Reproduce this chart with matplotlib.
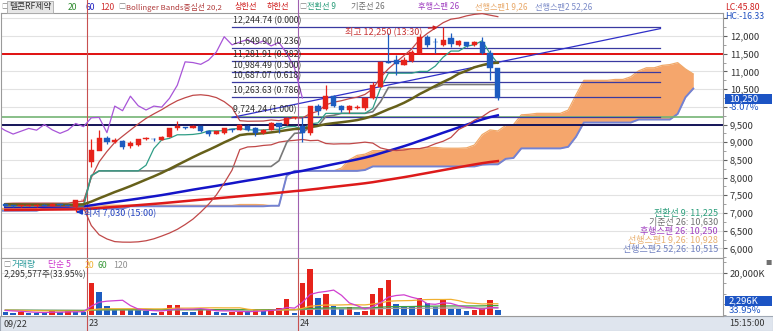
import numpy as np
import pandas as pd
import matplotlib
matplotlib.use("Agg")
import matplotlib.pyplot as plt
from matplotlib.patches import Rectangle
from matplotlib.lines import Line2D
from matplotlib.ticker import MultipleLocator, FixedLocator

plt.rcParams['font.family'] = ['Noto Sans CJK KR', 'DejaVu Sans']

W, H = 773, 331

# ---------------- data (15-minute bars, 09/22 afternoon .. 09/24) ----------------
opens = [7250, 7220, 7200, 7210, 7190, 7240, 7200, 7240, 7230, 7160, 7360,
         8450, 8750, 9130, 9010, 9040, 8890, 8920, 9080, 9100, 9070, 9160, 9400, 9420, 9400,
         9460, 9320, 9240, 9250, 9360, 9350, 9460, 9390, 9260, 9350, 9530, 9510, 9690,
         9460, 9270, 10020, 9930, 10300, 10020, 9910, 9980, 9960, 10240, 10570, 11260, 11320,
         11190, 11280, 11510, 11980, 11840, 11750, 11930, 11750, 11820, 11740, 11840, 11510, 11090]
highs = [7270, 7240, 7230, 7230, 7250, 7250, 7270, 7260, 7250, 7380, 7380,
         9080, 9350, 9180, 9110, 9060, 9030, 9100, 9160, 9130, 9170, 9400, 9600, 9440, 9480,
         9470, 9340, 9330, 9410, 9380, 9520, 9480, 9420, 9360, 9560, 9550, 9700, 9720,
         9700, 10030, 10080, 10620, 10320, 10060, 10060, 10060, 10250, 10710, 11280, 12080, 11460,
         11420, 11600, 12050, 12030, 11930, 12250, 12080, 11900, 11840, 11850, 11980, 11600, 11100]
lows = [7190, 7180, 7180, 7190, 7180, 7190, 7190, 7210, 7190, 7030, 7350,
        8290, 8780, 8940, 8990, 8820, 8840, 8900, 9060, 9040, 9050, 9150, 9350, 9380, 9390,
        9280, 9180, 9220, 9240, 9300, 9340, 9330, 9170, 9240, 9340, 9260, 9500, 9660,
        9010, 9200, 9780, 9920, 10000, 9850, 9820, 9950, 9920, 10220, 10550, 11230, 10900,
        11170, 11260, 11480, 11700, 11520, 11730, 11700, 11720, 11700, 11720, 11480, 10760, 10200]
closes = [7200, 7190, 7205, 7210, 7240, 7200, 7250, 7230, 7200, 7370, 7360,
          8780, 9110, 9000, 9050, 8870, 8970, 9080, 9120, 9080, 9150, 9390, 9450, 9405, 9460,
          9330, 9230, 9310, 9390, 9340, 9500, 9350, 9250, 9340, 9530, 9440, 9690, 9700,
          9270, 10020, 9890, 10300, 10030, 9910, 10020, 9990, 10240, 10610, 11270, 11250, 11200,
          11320, 11550, 11980, 11750, 11830, 11900, 11770, 11860, 11720, 11820, 11510, 11090, 10250]
volumes_k = [1600, 1100, 1400, 1100, 1100, 1100, 1900, 1300, 1900, 1300, 1300,
             15000, 10700, 4400, 2400, 2400, 2400, 2400, 2000, 1100, 1600, 4700, 4700, 1400, 1400,
             2800, 2800, 1600, 1100, 1400, 1600, 1900, 2700, 1900, 2700, 3200, 7400, 1100,
             15300, 21600, 7900, 9800, 4300, 3000, 3600, 1400, 2000, 9800, 12600, 16500, 5200,
             3600, 4000, 8200, 5500, 4000, 7100, 2700, 2700, 1900, 2400, 3500, 7100, 2296]
vol_colors = list("BBRBBBRBRBB"
                  "RBBBRBBBBRRRBBRRBBRRBRBRRRB"
                  "RRBRBBRBRRRRBBBRBBRBBBRRRB")
last_volume_shares = 2295577
last_volume_ratio = '33.95%'
price_change = '-8.07%'
day_labels = ['09/22', '23', '24']
day_first_bar = [0, 11, 38]
time_labels = {'high': '13:30', 'low': '15:00'}
lc_hc = ('LC:45.80', 'HC:-16.33')

# levels on the left edge before the visible bars (indicator warm-up)
warm_levels = [7000, 7130, 7250]
warm_counts = [80, 40, 20]
warm_spread = 50
warm_volume_k = 2300

# drawn objects
fib_high, fib_low = 12244.74, 9724.24
fib_ratios = [0.0, 0.236, 0.382, 0.5, 0.618, 0.786, 1.0]
fib_x = [29, 83.8]
trend_x = [29, 83.8]
trend_p = [9700, 12210]
hline_red, hline_green, hline_navy = 11500, 9700, 9480

# ---------------- indicators ----------------
n = len(closes)
wc = np.concatenate([np.full(c, v, float) for v, c in zip(warm_levels, warm_counts)])
nw = len(wc)
C = pd.Series(np.concatenate([wc, closes]))
Hh = pd.Series(np.concatenate([wc + warm_spread, highs]))
Ll = pd.Series(np.concatenate([wc - warm_spread, lows]))
Vv = pd.Series(np.concatenate([np.full(nw, warm_volume_k, float), volumes_k]))
t_all = np.arange(-nw, n)

ma = {k: C.rolling(k).mean().values for k in (20, 60, 120)}
sd20 = C.rolling(20).std(ddof=0).values
bb_up = ma[20] + 2 * sd20
bb_dn = ma[20] - 2 * sd20
conv = ((Hh.rolling(9).max() + Ll.rolling(9).min()) / 2).values
base = ((Hh.rolling(26).max() + Ll.rolling(26).min()) / 2).values
span1 = (conv + base) / 2
span2 = ((Hh.rolling(52).max() + Ll.rolling(52).min()) / 2).values
shift = 25
vma = {k: Vv.rolling(k).mean().values for k in (5, 20, 60, 120)}

vis = t_all >= 0

UP = '#e6231b'
DN = '#1d5cc0'

# ---------------- figure ----------------
fig = plt.figure(figsize=(W / 100, H / 100), dpi=100)
fig.patch.set_facecolor('white')


def rect(x0, y0, x1, y1):
    return [x0 / W, 1 - y1 / H, (x1 - x0) / W, (y1 - y0) / H]


XL = (-0.55, 91.8)
ax = fig.add_axes(rect(1, 13, 723, 258))
axv = fig.add_axes(rect(1, 258, 723, 316))
for a in (ax, axv):
    a.set_xlim(*XL)
    a.set_xticks([])
    for s in a.spines.values():
        s.set_color('#9a9a9a')
        s.set_linewidth(0.8)
    a.set_facecolor('white')

ax.set_ylim(5729, 12650)
axv.set_ylim(-470, 26950)


def px_of(x):
    return 1 + (x - XL[0]) / (XL[1] - XL[0]) * 722

# grid
for p in range(6000, 13000, 500):
    ax.axhline(p, color='#e2e2e2', lw=0.8, zorder=0)
axv.axhline(20000, color='#e2e2e2', lw=0.8, zorder=0)

# cloud
ts = t_all + shift
m = ts >= -1
ax.fill_between(ts[m], span1[m], span2[m], color='#f5a66c', lw=0, zorder=1)
ax.plot(ts[m], span1[m], color='#f0a868', lw=0.9, zorder=1.5)
ax.plot(ts[m], span2[m], color='#7282d4', lw=1.4, zorder=1.6)

# horizontal lines
ax.axhline(hline_red, color='#e01010', lw=1.4, zorder=2)
ax.axhline(hline_green, color='#74b474', lw=1.2, zorder=2)
ax.axhline(hline_navy, color='#141458', lw=1.4, zorder=2)

# fibonacci
for r in fib_ratios:
    lv = fib_high - r * (fib_high - fib_low)
    ax.plot(fib_x, [lv, lv], color='#3a3aa0', lw=0.9, zorder=2)
    ax.text(fib_x[0] + 0.1, lv + 55, f"{lv:,.2f} ({r:.3f})", fontsize=6.3,
            color='#303030', ha='left', va='bottom', zorder=6)
ax.plot(trend_x, trend_p, color='#2f2fc8', lw=0.9, zorder=2)

# day separators
seps = [day_first_bar[1] - 0.5, day_first_bar[2] - 0.5]
sep_cols = ['#c85050', '#a060b0']
for s, c in zip(seps, sep_cols):
    ax.axvline(s, color=c, lw=0.8, zorder=2)
    axv.axvline(s, color='#c85050', lw=0.8, zorder=2)
    fig.add_artist(Line2D([px_of(s) / W] * 2, [0, 15 / H], color='#c85050', lw=0.8,
                          transform=fig.transFigure, zorder=5))
    fig.add_artist(Line2D([px_of(s) / W] * 2, [1 - 13 / H, 1], color=c, lw=0.8,
                          transform=fig.transFigure, zorder=5))

# indicator lines
tv = t_all[vis]
ax.plot(tv, ma[120][vis], color='#dd1a1a', lw=1.8, zorder=3)
ax.plot(tv, ma[60][vis], color='#1414c8', lw=1.8, zorder=3)
ax.plot(tv, bb_up[vis], color='#c04848', lw=0.9, zorder=3)
ax.plot(tv, bb_dn[vis], color='#c04848', lw=0.9, zorder=3)
ax.plot(tv, base[vis], color='#787878', lw=1.2, zorder=3)
ax.plot(tv, conv[vis], color='#2f9d86', lw=0.9, zorder=3)
ax.plot(tv, ma[20][vis], color='#66601a', lw=1.8, zorder=3.1)
lag_x = np.arange(n) - shift
ax.plot(lag_x, closes, color='#a855d8', lw=0.9, zorder=3)

# candles
idx = np.arange(n)
o = np.array(opens, float); c = np.array(closes, float)
col = np.where(c >= o, UP, DN)
ax.vlines(idx, lows, highs, colors=col, lw=0.9, zorder=4)
ax.bar(idx, np.maximum(np.abs(c - o), 14), bottom=np.minimum(o, c), width=0.66,
       color=col, edgecolor=col, lw=0.3, zorder=5)

# high / low annotations
ih = int(np.argmax(highs)); il = int(np.argmin(lows))
ax.annotate(f"최고 {highs[ih]:,} ({time_labels['high']})", xy=(ih - 0.3, highs[ih]),
            xytext=(ih - 2.6, highs[ih] - 130), fontsize=6.5, color='#c83232',
            ha='right', va='center', zorder=7,
            arrowprops=dict(arrowstyle='-|>', color='#d02020', lw=0.9, mutation_scale=6))
ax.annotate(f"최저 {lows[il]:,} ({time_labels['low']})", xy=(il + 0.1, lows[il]),
            xytext=(il + 1.1, lows[il]), fontsize=6.5, color='#2040c0',
            ha='left', va='center', zorder=7,
            arrowprops=dict(arrowstyle='-|>', color='#1a3cc8', lw=1.2, mutation_scale=7))

# right price axis
ax.yaxis.tick_right()
ticks = list(range(6000, 13000, 500))
ax.yaxis.set_major_locator(FixedLocator(ticks))
ax.set_yticklabels(['' if t in (10000, 12500) else f"{t:,}" for t in ticks])
ax.yaxis.set_minor_locator(MultipleLocator(250))
ax.tick_params(axis='y', which='major', length=3, pad=2, labelsize=6.8,
               colors='#606060', labelcolor='#333333')
ax.tick_params(axis='y', which='minor', length=2, colors='#909090')

axv.yaxis.tick_right()
axv.yaxis.set_major_locator(FixedLocator([20000]))
axv.set_yticklabels(['20,000K'])
axv.yaxis.set_minor_locator(MultipleLocator(5000))
axv.tick_params(axis='y', which='major', length=3, pad=2, labelsize=6.8,
                colors='#606060', labelcolor='#333333')
axv.tick_params(axis='y', which='minor', length=2, colors='#909090')

# volume
vcol = [UP if v == 'R' else DN for v in vol_colors]
axv.bar(idx, volumes_k, width=0.7, color=vcol, zorder=3)
vcols = {5: '#d040d0', 20: '#f0b030', 60: '#40a040', 120: '#a0a0a0'}
for k in (120, 60, 20, 5):
    axv.plot(tv, vma[k][vis], color=vcols[k], lw=0.9, zorder=4)

# ---------------- texts ----------------
def ftext(px, py, s, color='#333333', size=6.5, ha='left', **kw):
    return fig.text(px / W, 1 - py / H, s, color=color, fontsize=size, ha=ha,
                    va='center', **kw)

# header legend
ftext(1.5, 7, '□', color='#888888', size=5)
ftext(9, 7, '텔콘RF제약', color='#333333', size=6.3,
      bbox=dict(boxstyle='square,pad=0.2', fc='#e6e6e6', ec='#a8a8a8', lw=0.6))
legend_items = [('20', 68, '#2e8b2e', 6.2), ('60', 85, '#2020c0', 6.2),
                ('120', 100, '#d03030', 6.2), ('□', 118, '#888888', 5),
                ('Bollinger Bands중심선 20,2', 126, '#b03a3a', 5.6),
                ('상한선', 235, '#d02020', 5.9), ('하한선', 267, '#d02020', 5.9),
                ('□', 299, '#888888', 5), ('전환선 9', 307, '#2a9d7a', 5.9),
                ('기준선 26', 351, '#707070', 5.9), ('후행스팬 26', 418, '#a040c0', 5.9),
                ('선행스팬1 9,26', 475, '#e8a868', 5.9), ('선행스팬2 52,26', 535, '#7a8ac8', 5.9)]
for s, x, cc, fs in legend_items:
    ftext(x, 7, s, color=cc, size=fs)

ftext(725, 7, lc_hc[0], color='#d02020', size=6.3)
ftext(725, 16.5, lc_hc[1], color='#2050c0', size=6.3)

# ichimoku value labels
last = -1
ich_lbl = [(f"전환선 9: {conv[last]:,.0f}", '#2a9d7a'),
           (f"기준선 26: {base[last]:,.0f}", '#707070'),
           (f"후행스팬 26: {closes[-1]:,.0f}", '#a040c0'),
           (f"선행스팬1 9,26: {span1[last]:,.0f}", '#e8b070'),
           (f"선행스팬2 52,26: {span2[last]:,.0f}", '#7080c0')]
for k, (s, cc) in enumerate(ich_lbl):
    ftext(718, 212 + k * 9.2, s, color=cc, size=6.5, ha='right')

# current price box
fig.add_artist(Rectangle((725 / W, 1 - 103.5 / H), 47 / W, 9.5 / H, transform=fig.transFigure,
                         fc='#1c54c4', ec='none', zorder=8))
ftext(729, 98.8, f"{closes[-1]:,}", color='white', size=6.8, zorder=9)
ftext(729, 108, price_change, color='#1c54c4', size=6.8)

fig.add_artist(Rectangle((725 / W, 1 - 305.5 / H), 47 / W, 9.5 / H, transform=fig.transFigure,
                         fc='#1c54c4', ec='none', zorder=8))
ftext(729, 300.8, f"{last_volume_shares / 1000:,.0f}K", color='white', size=6.8, zorder=9)
ftext(729, 310.5, last_volume_ratio, color='#1c54c4', size=6.8)
ftext(768, 263, '■', color='#707070', size=4.5, ha='center')

# volume header
ftext(3, 265, '□', color='#888888', size=5)
ftext(12, 265, '거래량', color='#2a9a9a', size=6.3)
ftext(48, 265, '단순 5', color='#cc33cc', size=6.3)
ftext(85, 265, '20', color='#f0b030', size=6.3)
ftext(97, 265, '60', color='#3a9a3a', size=6.3)
ftext(113, 265, '120', color='#909090', size=6.3)
ftext(4, 275, f"{last_volume_shares:,}주({last_volume_ratio})", color='#333333', size=6.3)

# date strip
fig.add_artist(Rectangle((0, 0), 1, 15 / H, transform=fig.transFigure,
                         fc='#dfe5ee', ec='#a0a8b4', lw=0.8, zorder=0))
for lbl, fb in zip(day_labels, day_first_bar):
    px = 3 if fb == 0 else px_of(fb - 0.5) + 1.5
    ftext(px, 323.5, lbl, color='#333333', size=6.5)
ftext(729, 323.5, '15:15:00', color='#333333', size=6.5)

fig.savefig('out.png', dpi=100, facecolor='white')
